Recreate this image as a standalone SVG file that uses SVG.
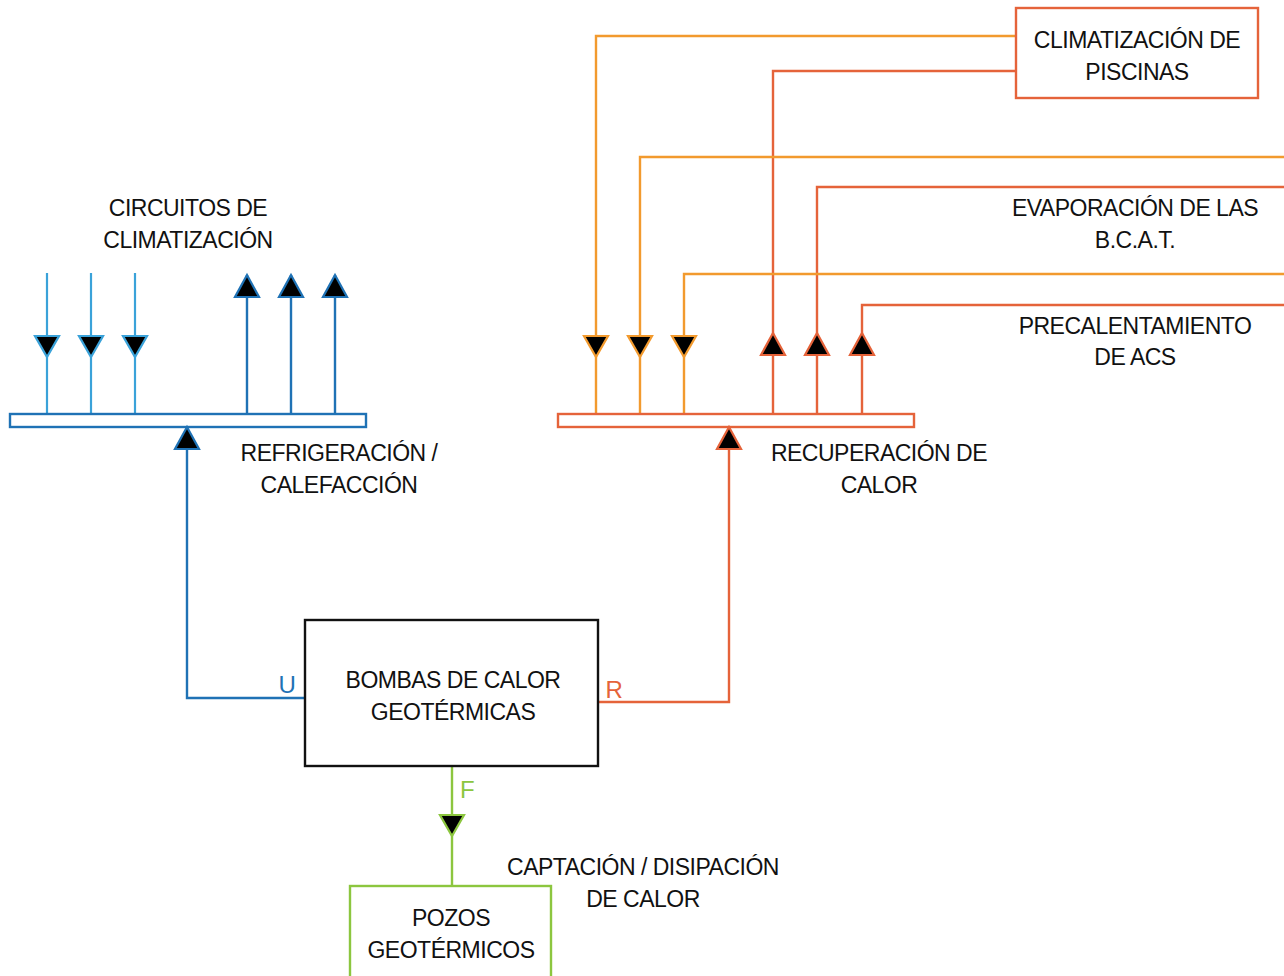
<svg xmlns="http://www.w3.org/2000/svg" width="1284" height="976" viewBox="0 0 1284 976">
<style>
text{font-family:"Liberation Sans",Arial,sans-serif;font-size:23px;letter-spacing:-0.5px;fill:#111;text-anchor:middle}
.lb{stroke:#3aa2d9;stroke-width:2.2;fill:none}
.db{stroke:#1f72b5;stroke-width:2.4;fill:none}
.or{stroke:#f29a2e;stroke-width:2.4;fill:none}
.rd{stroke:#e5633a;stroke-width:2.4;fill:none}
.gr{stroke:#8cc63f;stroke-width:2.4;fill:none}
.ah{stroke-width:2.2}
.ah.lb,.ah.db,.ah.or,.ah.rd,.ah.gr{fill:#000}
.lbl{font-size:24px}
</style>
<defs>
<polygon id="dn" points="-12,0 12,0 0,21"/>
<polygon id="up" points="-12,0 12,0 0,-22"/>
</defs>
<g id="connectors">
<path class="lb" d="M47 273V414M91 273V414M135 273V414"/>
<path class="db" d="M247 275V414M291 275V414M335 275V414"/>
<path class="db" d="M305 698H187V428"/>
<path class="or" d="M1016 36H596V414"/>
<path class="rd" d="M1016 71H773V414"/>
<path class="or" d="M1284 157H640V414"/>
<path class="rd" d="M1284 187H817V414"/>
<path class="or" d="M1284 274H684V414"/>
<path class="rd" d="M1284 305H862V414"/>
<path class="rd" d="M598 702H729V428"/>
<path class="gr" d="M452 767V886"/>
<use href="#dn" class="ah lb" x="47" y="336"/>
<use href="#dn" class="ah lb" x="91" y="336"/>
<use href="#dn" class="ah lb" x="135" y="336"/>
<use href="#up" class="ah db" x="247" y="297"/>
<use href="#up" class="ah db" x="291" y="297"/>
<use href="#up" class="ah db" x="335" y="297"/>
<use href="#up" class="ah db" x="187" y="449"/>
<use href="#dn" class="ah or" x="596" y="336"/>
<use href="#dn" class="ah or" x="640" y="336"/>
<use href="#dn" class="ah or" x="684" y="336"/>
<use href="#up" class="ah rd" x="773" y="355"/>
<use href="#up" class="ah rd" x="817" y="355"/>
<use href="#up" class="ah rd" x="862" y="355"/>
<use href="#up" class="ah rd" x="729" y="449"/>
<use href="#dn" class="ah gr" x="452" y="815"/>
</g>
<g id="bar-climatizacion">
<rect x="10" y="414" width="356" height="13" fill="#fff" class="db"/>
</g>
<g id="bar-recuperacion">
<rect x="558" y="414" width="356" height="13" fill="#fff" class="rd"/>
</g>
<g id="box-piscinas">
<rect x="1016" y="8" width="242" height="90" fill="#fff" class="rd"/>
<text x="1137" y="48">CLIMATIZACIÓN DE</text>
<text x="1137" y="80">PISCINAS</text>
</g>
<g id="label-evaporacion">
<text x="1135" y="216">EVAPORACIÓN DE LAS</text>
<text x="1135" y="248">B.C.A.T.</text>
</g>
<g id="label-precalentamiento">
<text x="1135" y="334">PRECALENTAMIENTO</text>
<text x="1135" y="365">DE ACS</text>
</g>
<g id="label-circuitos">
<text x="188" y="216">CIRCUITOS DE</text>
<text x="188" y="248">CLIMATIZACIÓN</text>
</g>
<g id="label-refrigeracion">
<text x="339" y="461">REFRIGERACIÓN /</text>
<text x="339" y="493">CALEFACCIÓN</text>
</g>
<g id="label-recuperacion">
<text x="879" y="461">RECUPERACIÓN DE</text>
<text x="879" y="493">CALOR</text>
</g>
<g id="box-bombas">
<rect x="305" y="620" width="293" height="146" fill="#fff" stroke="#111" stroke-width="2.4"/>
<text x="453" y="688">BOMBAS DE CALOR</text>
<text x="453" y="720">GEOTÉRMICAS</text>
<text class="lbl" x="287" y="693" style="fill:#1f72b5">U</text>
<text class="lbl" x="614" y="698" style="fill:#e5633a">R</text>
<text class="lbl" x="467" y="798" style="fill:#8cc63f">F</text>
</g>
<g id="label-captacion">
<text x="643" y="875">CAPTACIÓN / DISIPACIÓN</text>
<text x="643" y="907">DE CALOR</text>
</g>
<g id="box-pozos">
<rect x="350" y="886" width="201" height="100" fill="#fff" class="gr"/>
<text x="451" y="926">POZOS</text>
<text x="451" y="958">GEOTÉRMICOS</text>
</g>
</svg>
